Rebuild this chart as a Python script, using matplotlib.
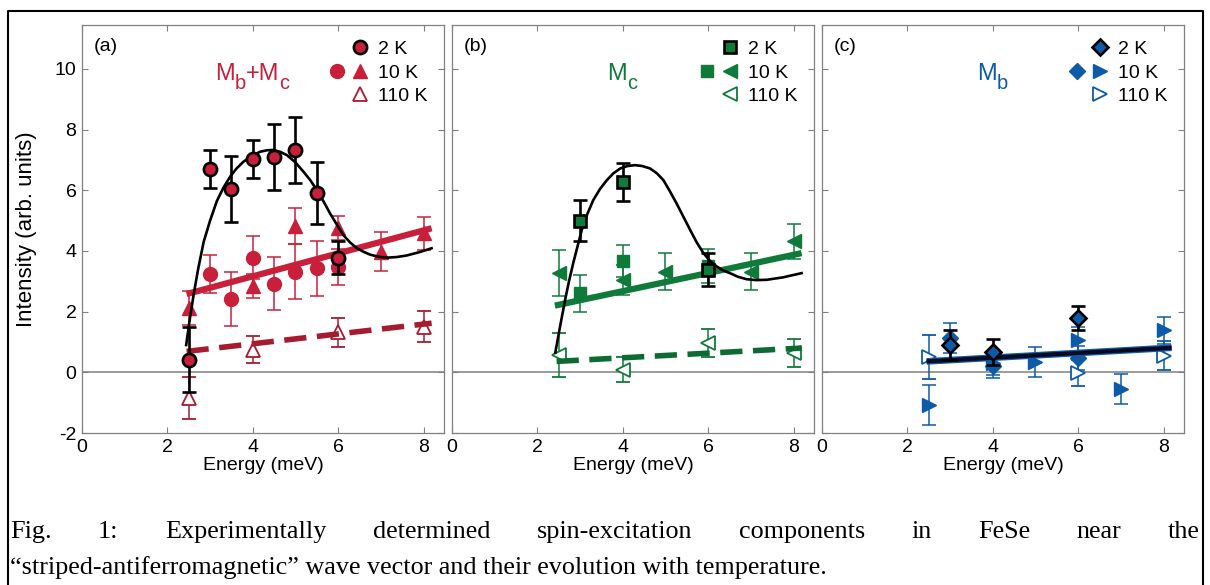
import numpy as np
import matplotlib
matplotlib.use('Agg')
import matplotlib.pyplot as plt
from matplotlib.lines import Line2D
from matplotlib.legend_handler import HandlerTuple
from matplotlib.transforms import offset_copy

plt.rcParams['font.family'] = ['Liberation Sans', 'DejaVu Sans']
plt.rcParams['axes.unicode_minus'] = False

RED, RED_D = '#C8203A', '#A51C30'
GREEN, GREEN_D = '#0F7A3A', '#0C6A32'
BLUE, BLUE_D = '#0D5BA8', '#0A4F95'

# ---------------- data: panel (a) Mb+Mc ----------------
a_2K_E = [2.5, 3.0, 3.5, 4.0, 4.5, 5.0, 5.5, 6.0]
a_2K_I = [0.42, 6.70, 6.04, 7.02, 7.10, 7.33, 5.90, 3.78]
a_2K_err = [1.08, 0.63, 1.08, 0.63, 1.08, 1.08, 1.02, 0.55]
a_10Kc_E = [3.0, 3.5, 4.0, 4.5, 5.0, 5.5, 6.0]
a_10Kc_I = [3.25, 2.42, 3.78, 2.92, 3.32, 3.43, 3.47]
a_10Kc_err = [0.63, 0.90, 0.70, 0.88, 0.90, 0.90, 0.60]
a_10Kt_E = [2.5, 4.0, 5.0, 6.0, 7.0, 8.0]
a_10Kt_I = [2.12, 2.85, 4.83, 4.77, 3.98, 4.58]
a_10Kt_err = [0.55, 0.40, 0.60, 0.40, 0.63, 0.55]
a_110K_E = [2.5, 4.0, 6.0, 8.0]
a_110K_I = [-0.84, 0.75, 1.32, 1.51]
a_110K_err = [0.70, 0.45, 0.48, 0.50]
a_fit10_E, a_fit10_I = [2.45, 8.19], [2.58, 4.75]
a_fit110_E, a_fit110_I = [2.45, 8.19], [0.69, 1.62]
a_curve_E = [2.44, 2.53, 2.62, 2.72, 2.85, 3.00, 3.16, 3.31, 3.47, 3.62, 3.78, 3.97,
             4.17, 4.33, 4.48, 4.64, 4.80, 5.00, 5.19, 5.35, 5.50, 5.66, 5.81, 5.97,
             6.12, 6.28, 6.44, 6.60, 6.75, 6.95, 7.14, 7.37, 7.60, 7.90, 8.19]
a_curve_I = [0.90, 1.80, 2.60, 3.40, 4.30, 5.00, 5.65, 6.08, 6.45, 6.72, 6.94, 7.13,
             7.27, 7.32, 7.33, 7.27, 7.16, 6.92, 6.61, 6.33, 6.01, 5.63, 5.24, 4.87,
             4.53, 4.28, 4.09, 3.97, 3.88, 3.81, 3.78, 3.80, 3.85, 3.96, 4.09]

# ---------------- data: panel (b) Mc ----------------
b_2K_E = [3.0, 4.0, 6.0]
b_2K_I = [5.00, 6.28, 3.38]
b_2K_err = [0.67, 0.62, 0.54]
b_10Ks_E = [3.0, 4.0, 6.0]
b_10Ks_I = [2.60, 3.68, 3.50]
b_10Ks_err = [0.60, 0.53, 0.55]
b_10Kt_E = [2.5, 4.0, 5.0, 7.0, 8.0]
b_10Kt_I = [3.27, 3.05, 3.32, 3.32, 4.32]
b_10Kt_err = [0.77, 0.50, 0.62, 0.60, 0.57]
b_110K_E = [2.5, 4.0, 6.0, 8.0]
b_110K_I = [0.58, 0.09, 0.97, 0.64]
b_110K_err = [0.73, 0.42, 0.47, 0.47]
b_fit10_E, b_fit10_I = [2.41, 8.19], [2.20, 3.93]
b_fit110_E, b_fit110_I = [2.45, 8.19], [0.36, 0.80]
b_curve_E = [2.42, 2.53, 2.65, 2.74, 2.84, 2.94, 3.04, 3.17, 3.31, 3.47, 3.63, 3.78,
             3.94, 4.11, 4.29, 4.46, 4.64, 4.80, 4.95, 5.10, 5.26, 5.42, 5.58, 5.73,
             5.89, 6.04, 6.20, 6.35, 6.51, 6.70, 6.90, 7.13, 7.37, 7.75, 8.19]
b_curve_I = [0.65, 1.50, 2.39, 3.00, 3.60, 4.15, 4.69, 5.22, 5.68, 6.05, 6.34, 6.56,
             6.72, 6.80, 6.83, 6.80, 6.72, 6.56, 6.34, 5.98, 5.57, 5.13, 4.69, 4.29,
             3.93, 3.68, 3.49, 3.36, 3.27, 3.15, 3.07, 3.04, 3.05, 3.13, 3.27]

# ---------------- data: panel (c) Mb ----------------
c_2K_E = [3.0, 4.0, 6.0]
c_2K_I = [0.91, 0.66, 1.79]
c_2K_err = [0.50, 0.43, 0.40]
c_10Kd_E = [3.0, 4.0, 6.0]
c_10Kd_I = [1.13, 0.22, 0.47]
c_10Kd_err = [0.50, 0.40, 0.40]
c_10Kt_E = [2.5, 4.0, 5.0, 6.0, 7.0, 8.0]
c_10Kt_I = [-1.08, 0.30, 0.33, 1.08, -0.55, 1.38]
c_10Kt_err = [0.65, 0.40, 0.50, 0.40, 0.50, 0.45]
c_110K_E = [2.5, 6.0, 8.0]
c_110K_I = [0.50, -0.03, 0.55]
c_110K_err = [0.72, 0.43, 0.48]
c_fit_E, c_fit_I = [2.45, 8.19], [0.36, 0.81]

x_ticks = [0, 2, 4, 6, 8]
y_ticks = [-2, 0, 2, 4, 6, 8, 10]
legend_labels = ['2 K', '10 K', '110 K']
# title pieces: (text, is_subscript)
titles = [[('M', False), ('b', True), ('+M', False), ('c', True)],
          [('M', False), ('c', True)],
          [('M', False), ('b', True)]]
panel_labels = ['(a)', '(b)', '(c)']

W, H = 1210, 585
fig = plt.figure(figsize=(W / 100, H / 100), dpi=100)
r = fig.canvas.get_renderer()

ax_left_px = [82, 452, 822]
ax_w_px = 362
ax_top_px, ax_bot_px = 25, 433
axes = []
for lp in ax_left_px:
    ax = fig.add_axes([lp / W, 1 - ax_bot_px / H, ax_w_px / W, (ax_bot_px - ax_top_px) / H])
    axes.append(ax)

ms_big = 10
eb_col = dict(elinewidth=1.1, capsize=5, capthick=1.1, ls='none')
eb_blk = dict(ecolor='k', elinewidth=1.9, capsize=5, capthick=1.9, ls='none')


def style_axis(ax, show_y):
    ax.set_xlim(0, 8.48)
    ax.set_ylim(-2, 11.45)
    ax.set_xticks(x_ticks)
    ax.set_yticks(y_ticks)
    ax.tick_params(direction='in', top=True, right=True, length=4, width=0.8,
                   color='#808080', labelsize=14, pad=4)
    if not show_y:
        ax.tick_params(labelleft=False)
    for s in ax.spines.values():
        s.set_color('#808080')
        s.set_linewidth(0.9)
    ax.axhline(0, color='#8a8a8a', lw=1.2, zorder=1)
    ax.set_xlabel('Energy (meV)', fontsize=14)
    ax.xaxis.set_label_coords(0.5, -0.058)


def draw_title(ax, pieces, xc, yc, color, fs=17):
    # measure total width, then place pieces left to right
    tmp = [ax.text(0, 0, s, fontsize=fs * (0.85 if sub else 1.0)) for s, sub in pieces]
    widths = [t.get_window_extent(r).width for t in tmp]
    for t in tmp:
        t.remove()
    total = sum(widths)
    x0 = -total / 2.0
    base = ax.transAxes
    for (s, sub), w in zip(pieces, widths):
        dy = -9 if sub else 0
        tr = offset_copy(base, fig=fig, x=x0 * 72 / 100, y=dy * 72 / 100 / 1.0, units='points')
        ax.text(xc, yc, s, transform=tr, fontsize=fs * (0.85 if sub else 1.0),
                color=color, ha='left', va='baseline')
        x0 += w


# ---------- (a) ----------
ax = axes[0]
ax.errorbar(a_10Kc_E, a_10Kc_I, yerr=a_10Kc_err, marker='o', ms=ms_big, color=RED,
            mec=RED, ecolor=RED, zorder=3, **eb_col)
ax.errorbar(a_10Kt_E, a_10Kt_I, yerr=a_10Kt_err, marker='^', ms=10.5, color=RED,
            mec=RED, ecolor=RED, zorder=3, **eb_col)
ax.errorbar(a_110K_E, a_110K_I, yerr=a_110K_err, marker='^', ms=10.5, mfc='white',
            mec=RED_D, mew=1.3, ecolor=RED_D, zorder=3, **eb_col)
ax.plot(a_fit10_E, a_fit10_I, color=RED, lw=4.5, solid_capstyle='butt', zorder=4)
l, = ax.plot(a_fit110_E, a_fit110_I, color=RED_D, lw=4, zorder=4)
l.set_dashes((4, 1.9))
ax.plot(a_curve_E, a_curve_I, color='k', lw=1.9, zorder=5)
ax.errorbar(a_2K_E, a_2K_I, yerr=a_2K_err, marker='o', ms=9.5, mfc=RED, mec='k',
            mew=1.9, zorder=6, **eb_blk)

# ---------- (b) ----------
ax = axes[1]
ax.errorbar(b_10Ks_E, b_10Ks_I, yerr=b_10Ks_err, marker='s', ms=8.5, color=GREEN,
            mec=GREEN, ecolor=GREEN, zorder=3, **eb_col)
ax.errorbar(b_10Kt_E, b_10Kt_I, yerr=b_10Kt_err, marker='<', ms=10.5, color=GREEN,
            mec=GREEN, ecolor=GREEN, zorder=3, **eb_col)
ax.errorbar(b_110K_E, b_110K_I, yerr=b_110K_err, marker='<', ms=10.5, mfc='white',
            mec=GREEN, mew=1.3, ecolor=GREEN, zorder=3, **eb_col)
ax.plot(b_fit10_E, b_fit10_I, color=GREEN, lw=4.5, solid_capstyle='butt', zorder=4)
l, = ax.plot(b_fit110_E, b_fit110_I, color=GREEN_D, lw=4, zorder=4)
l.set_dashes((4, 1.9))
ax.plot(b_curve_E, b_curve_I, color='k', lw=1.9, zorder=5)
ax.errorbar(b_2K_E, b_2K_I, yerr=b_2K_err, marker='s', ms=8.5, mfc=GREEN, mec='k',
            mew=1.9, zorder=6, **eb_blk)

# ---------- (c) ----------
ax = axes[2]
ax.errorbar(c_10Kd_E, c_10Kd_I, yerr=c_10Kd_err, marker='D', ms=8, color=BLUE,
            mec=BLUE, ecolor=BLUE, zorder=3, **eb_col)
ax.errorbar(c_10Kt_E, c_10Kt_I, yerr=c_10Kt_err, marker='>', ms=10.5, color=BLUE,
            mec=BLUE, ecolor=BLUE, zorder=3, **eb_col)
ax.errorbar(c_110K_E, c_110K_I, yerr=c_110K_err, marker='>', ms=10.5, mfc='white',
            mec=BLUE, mew=1.3, ecolor=BLUE, zorder=3, **eb_col)
ax.plot(c_fit_E, c_fit_I, color=BLUE, lw=4.8, solid_capstyle='butt', zorder=4)
ax.plot(c_fit_E, c_fit_I, color='#050a20', lw=3.0, solid_capstyle='butt', zorder=4)
ax.errorbar(c_2K_E, c_2K_I, yerr=c_2K_err, marker='D', ms=8, mfc=BLUE, mec='k',
            mew=1.9, zorder=6, **eb_blk)

# ---------- common styling, titles, legends ----------
title_cols = [RED, GREEN, BLUE]
leg_specs = [
    (dict(marker='o', ms=9.5, mfc=RED, mec='k', mew=1.9),
     dict(marker='o', ms=ms_big, color=RED), dict(marker='^', ms=10.5, color=RED),
     dict(marker='^', ms=10.5, mfc='white', mec=RED_D, mew=1.3)),
    (dict(marker='s', ms=8.5, mfc=GREEN, mec='k', mew=1.9),
     dict(marker='s', ms=8.5, color=GREEN), dict(marker='<', ms=10.5, color=GREEN),
     dict(marker='<', ms=10.5, mfc='white', mec=GREEN, mew=1.3)),
    (dict(marker='D', ms=8, mfc=BLUE, mec='k', mew=1.9),
     dict(marker='D', ms=8, color=BLUE), dict(marker='>', ms=10.5, color=BLUE),
     dict(marker='>', ms=10.5, mfc='white', mec=BLUE, mew=1.3)),
]
for i, ax in enumerate(axes):
    style_axis(ax, i == 0)
    ax.text(0.033, 0.947, panel_labels[i], transform=ax.transAxes, fontsize=14,
            ha='left', va='center')
    draw_title(ax, titles[i], 0.47, 0.865, title_cols[i])
    s2, s10a, s10b, s110 = leg_specs[i]
    blank = Line2D([], [], ls='none')
    hs = [(blank, Line2D([], [], ls='none', **s2)),
          (Line2D([], [], ls='none', **s10a), Line2D([], [], ls='none', **s10b)),
          (blank, Line2D([], [], ls='none', **s110))]
    ax.legend(hs, legend_labels, loc='upper left', bbox_to_anchor=(0.697, 0.962),
              frameon=False, fontsize=14, borderpad=0, borderaxespad=0,
              handlelength=1.44, handletextpad=0.8, labelspacing=0.3,
              handler_map={tuple: HandlerTuple(ndivide=None, pad=0.93)})

axes[0].set_ylabel('Intensity (arb. units)', fontsize=16)
axes[0].yaxis.set_label_coords(-0.125, 0.5)

# ---------- outer frame ----------
fig.add_artist(Line2D([8 / W, 8 / W, 1203 / W, 1203 / W], [0, 1 - 11 / H, 1 - 11 / H, 0],
                      transform=fig.transFigure, color='k', lw=1.5))

# ---------- caption (justified first line) ----------
cap1 = "Fig. 1: Experimentally determined spin-excitation components in FeSe near the"
cap2 = "\u201cstriped-antiferromagnetic\u201d wave vector and their evolution with temperature."
t2 = fig.text(10 / W, 1 - 574 / H, cap2, family='Liberation Serif', fontsize=18,
              va='baseline', ha='left')
w2 = t2.get_window_extent(r).width
fs = 18 * 820 / w2
t2.set_fontsize(fs)
words = cap1.split(' ')
ts = [fig.text(0, 1 - 538 / H, w, family='Liberation Serif', fontsize=fs,
               va='baseline', ha='left') for w in words]
ws = [t.get_window_extent(r).width for t in ts]
gap = (1200 - 10 - sum(ws)) / (len(ws) - 1)
x = 10
for t, w in zip(ts, ws):
    t.set_x(x / W)
    x += w + gap

fig.savefig('out.png', dpi=100)
